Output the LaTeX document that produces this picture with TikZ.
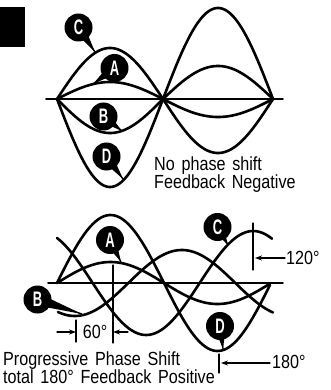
\documentclass[tikz,border=0pt]{standalone}
\usepackage{fontspec}
\setmainfont{Liberation Sans}[FakeStretch=0.85, WordSpace=1.5]
\newfontfamily\tagfont{Liberation Sans}[FakeStretch=0.62]
\usetikzlibrary{arrows.meta, calc, backgrounds}

\begin{document}
\begin{tikzpicture}[
    x=1pt, y=-1pt,
    >=Stealth,
    line cap=round, line join=round,
]
\tikzset{
    wave/.style={line width=2.6pt, smooth, samples=90},
    axisline/.style={line width=1.8pt},
    callout/.style={
        circle, fill=black, text=white, minimum size=28pt, inner sep=0pt,
        font=\tagfont\bfseries\fontsize{21}{21}\selectfont,
    },
    dimline/.style={line width=1.1pt},
    dimarrow/.style={-{Stealth[length=7pt, width=5pt]}, line width=1.1pt},
    note/.style={align=left, inner sep=0pt, font=\fontsize{19}{18}\selectfont},
    dimlabel/.style={inner sep=0pt, font=\fontsize{19}{19}\selectfont},
}
% tail of a lettered callout, from its circle to a point on a wave
\newcommand{\calltail}[2]{%
    \begin{scope}[on background layer]
    \fill ($(#1.center)!6pt!90:(#2)$) -- (#2) -- ($(#1.center)!6pt!-90:(#2)$) -- cycle;
    \draw[line width=1.3pt] (#1) -- (#2);
    \end{scope}
}
\useasboundingbox (0,0) rectangle (331,390);

\fill (0,7) rectangle (25,47);

% upper panel: all four in step
\draw[axisline] (46,99) -- (283,99);
\draw[wave] plot[domain=57:163] (\x,{99-17*sin((\x-57)/106*180)})
    -- plot[domain=163:273] (\x,{99+18*sin((\x-163)/110*180)});
\draw[wave] plot[domain=57:163] (\x,{99+34*sin((\x-57)/106*180)})
    -- plot[domain=163:273] (\x,{99-33*sin((\x-163)/110*180)});
\draw[wave] plot[domain=57:163] (\x,{99-51*sin((\x-57)/106*180)})
    -- plot[domain=163:273] (\x,{99+54*sin((\x-163)/110*180)});
\draw[wave] plot[domain=57:163] (\x,{99+88*sin((\x-57)/106*180)})
    -- plot[domain=163:273] (\x,{99-91*sin((\x-163)/110*180)});

\node[callout] (upC) at (78.5,27.5) {C};
\node[callout] (upA) at (114.5,68) {A};
\node[callout] (upB) at (103.5,116.5) {B};
\node[callout] (upD) at (106.5,156.5) {D};
\coordinate (tipUpC) at (95,52);
\coordinate (tipUpA) at (93,84);
\coordinate (tipUpB) at (122,131);
\coordinate (tipUpD) at (123,179);
\calltail{upC}{tipUpC}
\calltail{upA}{tipUpA}
\calltail{upB}{tipUpB}
\calltail{upD}{tipUpD}

\node[note, anchor=north west] (noshift) at (154,157)
    {No phase shift\\Feedback Negative};

% lower panel: 0, 60, 120 and 180 degrees
\draw[axisline] (48,283) -- (283,283);
\draw[wave] plot[domain=57:270] (\x,{283-21*sin((\x-57)/107*180)});
\draw[wave] plot[domain=58:273] (\x,{283+33*sin((\x-57)/107*180+60)});
\draw[wave] plot[domain=57:272] (\x,{283-52*sin((\x-57)/107*180+120)});
\draw[wave] plot[domain=57:270] (\x,{283-68*sin((\x-57)/107*180)});

\node[callout] (loA) at (110,240) {A};
\node[callout] (loB) at (37.5,299.5) {B};
\node[callout] (loC) at (217.5,227) {C};
\node[callout] (loD) at (220,326) {D};
\coordinate (tipLoA) at (121,262);
\coordinate (tipLoB) at (82,314);
\coordinate (tipLoC) at (228,245);
\coordinate (tipLoD) at (223,349);
\calltail{loA}{tipLoA}
\calltail{loB}{tipLoB}
\calltail{loC}{tipLoC}
\calltail{loD}{tipLoD}

% 60 degree spacing
\draw[dimline] (113,265) -- (113,343);
\draw[dimline] (76,320) -- (76,342);
\draw[dimarrow] (57,332) -- (76,332);
\draw[dimarrow] (128,332) -- (113,332);
\node[dimlabel] (deg60) at (95,332) {60°};

% 120 and 180 degree marks
\draw[dimline] (253,223) -- (253,270);
\draw[dimarrow] (285,258) -- (255,258);
\node[dimlabel, anchor=west] (deg120) at (286,258) {120°};
\draw[dimline] (219,354) -- (219,373);
\draw[dimarrow] (270,363) -- (221,363);
\node[dimlabel, anchor=west] (deg180) at (272,362) {180°};

\node[note, anchor=north west] (progshift) at (3,352)
    {Progressive Phase Shift\\total 180° Feedback Positive};

\end{tikzpicture}
\end{document}
